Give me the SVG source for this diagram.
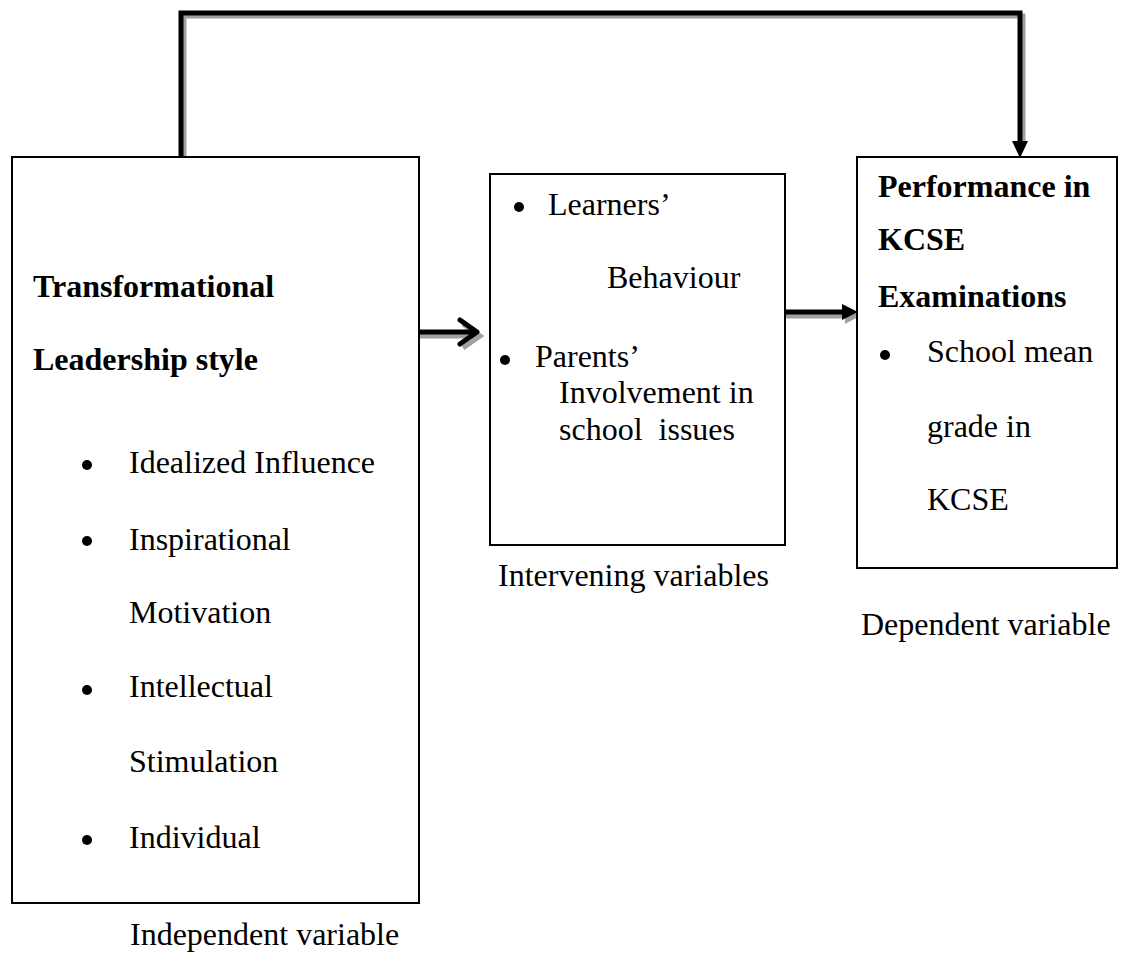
<svg xmlns="http://www.w3.org/2000/svg" width="1129" height="958" viewBox="0 0 1129 958">
<style>
.box{fill:#fff;stroke:#000;stroke-width:2}
.t{font-family:"Liberation Serif","Times New Roman",serif;font-size:32px;fill:#000}
.b{font-weight:bold}
.ln{fill:none;stroke:#000;stroke-width:5}
.sh{fill:none;stroke:#a0a0a0;stroke-width:5}
</style>
<rect width="1129" height="958" fill="#fff"/>
<g id="connectors">
<path class="sh" d="M184,160 V16 H1023 V146"/>
<path class="ln" d="M181,157 V13 H1020 V143"/>
<polygon points="1012,141 1028,141 1020,158" fill="#000"/>
<path class="sh" d="M420,336 H478 M463,324 L480,336 L463,348"/>
<path class="ln" d="M420,332 H476 M460,320 L477,332 L460,344" stroke-linecap="round" stroke-linejoin="round"/>
<path class="sh" d="M786,316 H846"/>
<polygon points="845,308 860,316 845,324" fill="#a0a0a0"/>
<path class="ln" d="M786,312 H844"/>
<polygon points="842,304 858,312 842,320" fill="#000"/>
</g>
<g id="independent">
<rect class="box" x="12" y="157" width="407" height="746"/>
<text class="t b" x="33" y="297">Transformational</text>
<text class="t b" x="33" y="370">Leadership style</text>
<circle cx="87" cy="465" r="5"/>
<text class="t" x="129" y="473">Idealized Influence</text>
<circle cx="87" cy="541" r="5"/>
<text class="t" x="129" y="550">Inspirational</text>
<text class="t" x="129" y="623">Motivation</text>
<circle cx="87" cy="690" r="5"/>
<text class="t" x="129" y="697">Intellectual</text>
<text class="t" x="129" y="772">Stimulation</text>
<circle cx="87" cy="840" r="5"/>
<text class="t" x="129" y="848">Individual</text>
<text class="t" x="130" y="945">Independent variable</text>
</g>
<g id="intervening">
<rect class="box" x="490" y="174" width="295" height="371"/>
<circle cx="519" cy="207" r="5"/>
<text class="t" x="548" y="215">Learners’</text>
<text class="t" x="607" y="288">Behaviour</text>
<circle cx="505" cy="360" r="5"/>
<text class="t" x="535" y="367">Parents’</text>
<text class="t" x="559" y="403">Involvement in</text>
<text class="t" x="559" y="440" xml:space="preserve">school  issues</text>
<text class="t" x="498" y="586">Intervening variables</text>
</g>
<g id="dependent">
<rect class="box" x="857" y="157" width="260" height="411"/>
<text class="t b" x="878" y="197">Performance in</text>
<text class="t b" x="878" y="250">KCSE</text>
<text class="t b" x="878" y="307">Examinations</text>
<circle cx="885" cy="355" r="5"/>
<text class="t" x="927" y="362">School mean</text>
<text class="t" x="927" y="437">grade in</text>
<text class="t" x="927" y="510">KCSE</text>
<text class="t" x="861" y="635">Dependent variable</text>
</g>
</svg>
